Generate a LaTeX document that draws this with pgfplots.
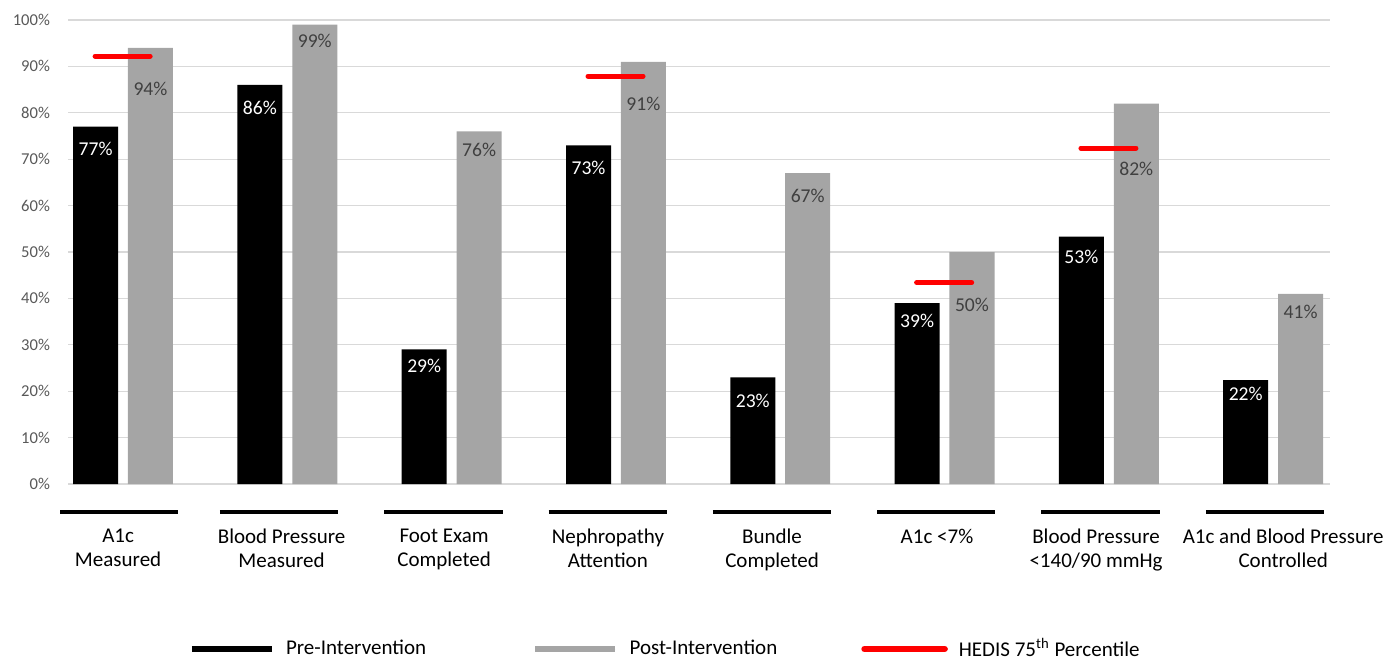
\documentclass[border=0pt]{standalone}
\usepackage{fontspec}
\setmainfont{Carlito}
\usepackage{pgfplots}
\pgfplotsset{compat=1.18}
\definecolor{postgray}{RGB}{165,165,165}
\definecolor{gridgray}{RGB}{217,217,217}
\definecolor{ticktext}{RGB}{89,89,89}
\definecolor{lbltext}{RGB}{64,64,64}
\begin{document}
\begin{tikzpicture}
\useasboundingbox (-34pt,-87.5pt) rectangle (659pt,242pt);
\begin{axis}[
  scale only axis, width=631pt, height=232pt,
  at={(0,0)}, anchor=south west,
  xmin=-0.335, xmax=7.346, ymin=0, ymax=100,
  axis line style={draw=none},
  ytick={0,10,...,100},
  ymajorgrids, grid style={gridgray, line width=0.6pt},
  major tick length=0pt,
  /pgf/number format/assume math mode=true,
  yticklabel={\pgfmathprintnumber{\tick}\%},
  yticklabel style={font=\fontsize{8.3}{10}\selectfont, text=ticktext, xshift=-5.5pt},
  xtick={-0.03,0.965,1.954,2.951,3.95,4.954,5.922,7.061},
  xticklabels={{A1c\\Measured},{Blood Pressure\\Measured},{Foot Exam\\Completed},{Nephropathy\\Attention},{Bundle\\Completed},{A1c <7\%},{Blood Pressure\\<140/90 mmHg},{A1c and Blood Pressure\\Controlled}},
  xticklabel style={align=center, font=\fontsize{10.5}{11.9}\selectfont, text=black, yshift=-18.9pt},
  clip=false,
  legend style={at={(0.5,0)}, anchor=center, xshift=-16.5pt, yshift=-82.5pt, draw=none, fill=none,
    font=\fontsize{10.5}{12}\selectfont, legend columns=3,
    /tikz/every odd column/.append style={column sep=3.5pt},
    /tikz/column 2/.append style={column sep=51pt},
    /tikz/column 4/.append style={column sep=40pt}},
]
\addplot[ybar, fill=black, draw=none, bar width=0.274, bar shift=-0.167,
  legend image code/.code={\draw[black, line width=3.3pt] (0pt,0pt) -- (40pt,0pt);}]
  coordinates {(0,77) (1,86) (2,29) (3,73) (4,23) (5,39) (6,53.3) (7,22.4)};
\addlegendentry{Pre-Intervention}
\addplot[ybar, fill=postgray, draw=none, bar width=0.274, bar shift=0.167,
  legend image code/.code={\draw[postgray, line width=3.3pt] (0pt,0pt) -- (40pt,0pt);}]
  coordinates {(0,94) (1,99) (2,76) (3,91) (4,67) (5,50) (6,82) (7,41)};
\addlegendentry{Post-Intervention}
\addplot[red, line width=2.5pt, line cap=round,
  legend image code/.code={\draw[red, line width=3.3pt] (0pt,0pt) -- (40pt,0pt);}]
  coordinates {(-0.17,92.2) (0.165,92.2)};
\addlegendentry{HEDIS 75\textsuperscript{th} Percentile}
\addplot[red, line width=2.5pt, line cap=round, forget plot] coordinates {(2.83,87.9) (3.165,87.9)};
\addplot[red, line width=2.5pt, line cap=round, forget plot] coordinates {(4.83,43.4) (5.165,43.4)};
\addplot[red, line width=2.5pt, line cap=round, forget plot] coordinates {(5.83,72.4) (6.165,72.4)};
\draw[black, line width=1.7pt] ([yshift=-14pt]axis cs:-0.383,0) -- ([yshift=-14pt]axis cs:0.335,0);
\pgfplotsinvokeforeach{1,...,7}{
  \draw[black, line width=1.7pt] ([yshift=-14pt]axis cs:#1-0.41,0) -- ([yshift=-14pt]axis cs:#1+0.31,0);
}
\tikzset{pre/.style={text=white, font=\fontsize{9.8}{11}\selectfont},
         post/.style={text=lbltext, font=\fontsize{9.8}{11}\selectfont}}
\node[pre] at (axis cs:-0.167,72.2) {77\%};
\node[pre] at (axis cs:0.833,81.0) {86\%};
\node[pre] at (axis cs:1.833,25.4) {29\%};
\node[pre] at (axis cs:2.833,68.1) {73\%};
\node[pre] at (axis cs:3.833,17.9) {23\%};
\node[pre] at (axis cs:4.833,35.1) {39\%};
\node[pre] at (axis cs:5.833,48.9) {53\%};
\node[pre] at (axis cs:6.833,19.4) {22\%};
\node[post] at (axis cs:0.167,85.1) {94\%};
\node[post] at (axis cs:1.167,95.5) {99\%};
\node[post] at (axis cs:2.167,72.0) {76\%};
\node[post] at (axis cs:3.167,81.9) {91\%};
\node[post] at (axis cs:4.167,62.1) {67\%};
\node[post] at (axis cs:5.167,38.6) {50\%};
\node[post] at (axis cs:6.167,67.9) {82\%};
\node[post] at (axis cs:7.167,37.1) {41\%};
\end{axis}
\end{tikzpicture}
\end{document}
